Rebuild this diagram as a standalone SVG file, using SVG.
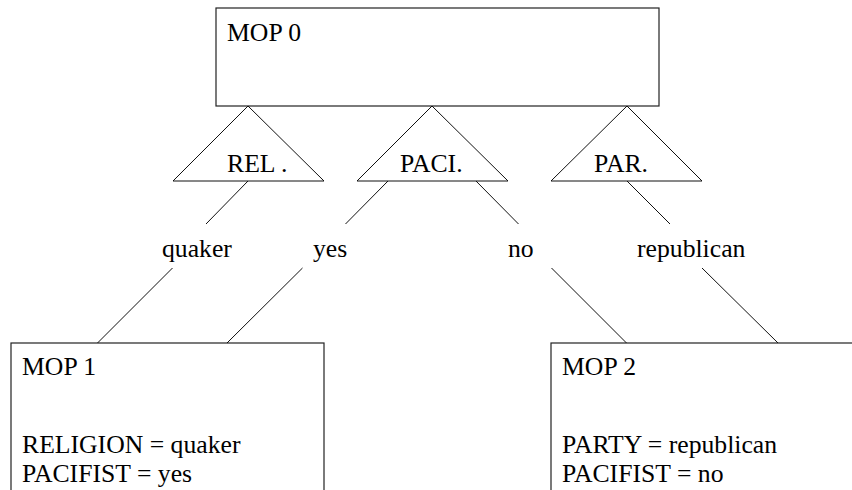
<svg xmlns="http://www.w3.org/2000/svg" width="852" height="490" viewBox="0 0 852 490">
  <style>
    .box { fill: #fff; stroke: #222; stroke-width: 1.2; }
    .tri { fill: #fff; stroke: #111; stroke-width: 1; }
    .edge { stroke: #111; stroke-width: 1; fill: none; }
    text { font-family: "Liberation Serif", "Times New Roman", serif; font-size: 25.7px; fill: #000; }
  </style>
  <rect width="852" height="490" fill="#fff"/>

  <!-- memory organization packets -->
  <g id="mop0">
    <rect class="box" x="216" y="8" width="443" height="98"/>
    <text x="227" y="41">MOP 0</text>
  </g>
  <g id="mop1">
    <rect class="box" x="11" y="343" width="313" height="180"/>
    <text x="22" y="375">MOP 1</text>
    <text x="22" y="453">RELIGION = quaker</text>
    <text x="22" y="482">PACIFIST = yes</text>
  </g>
  <g id="mop2">
    <rect class="box" x="551" y="343" width="330" height="180"/>
    <text x="562" y="375">MOP 2</text>
    <text x="562" y="453">PARTY = republican</text>
    <text x="562" y="482">PACIFIST = no</text>
  </g>

  <!-- index triangles -->
  <g id="idx-rel">
    <polygon class="tri" points="248,106 173,181 324,181"/>
    <text x="227" y="172">REL .</text>
  </g>
  <g id="idx-paci">
    <polygon class="tri" points="432,106 357,181 508,181"/>
    <text x="400" y="172">PACI.</text>
  </g>
  <g id="idx-par">
    <polygon class="tri" points="627,106 551,181 702,181"/>
    <text x="594" y="172">PAR.</text>
  </g>

  <!-- index links with their values -->
  <g id="connectors">
    <line class="edge" x1="248" y1="181" x2="206" y2="224"/>
    <line class="edge" x1="172.5" y1="268" x2="97.5" y2="343"/>
    <line class="edge" x1="388" y1="181" x2="345.5" y2="224"/>
    <line class="edge" x1="302.5" y1="268" x2="227" y2="343"/>
    <line class="edge" x1="476" y1="181" x2="518.5" y2="224"/>
    <line class="edge" x1="551.5" y1="268" x2="626.5" y2="343"/>
    <line class="edge" x1="627" y1="181" x2="670" y2="224"/>
    <line class="edge" x1="702" y1="268" x2="778" y2="343"/>
    <text x="162" y="257">quaker</text>
    <text x="313" y="257">yes</text>
    <text x="508" y="257">no</text>
    <text x="637" y="257">republican</text>
  </g>
</svg>
